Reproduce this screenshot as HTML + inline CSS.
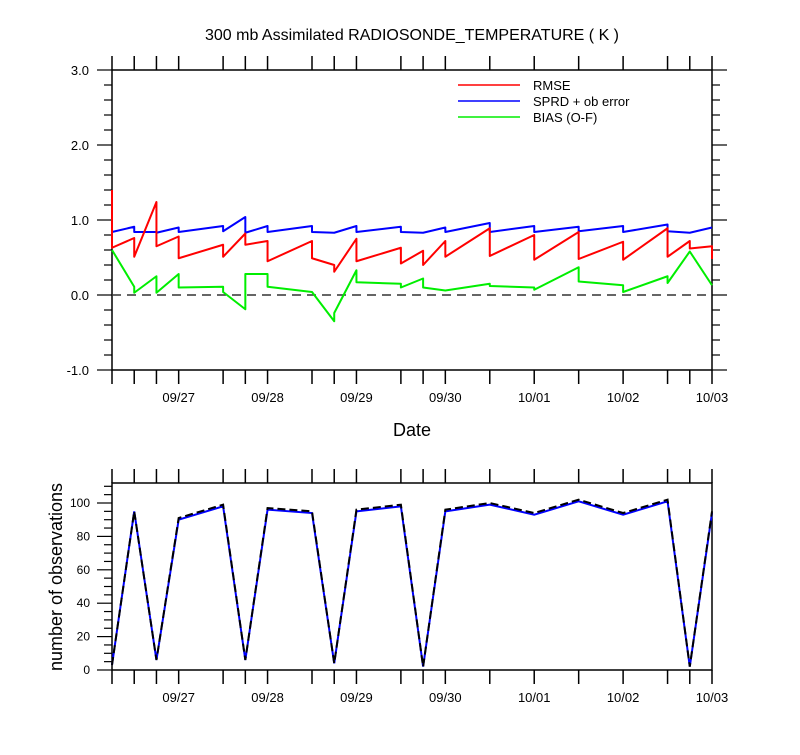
<!DOCTYPE html>
<html><head><meta charset="utf-8"><style>
body{margin:0;background:#fff;}
svg{font-family:"Liberation Sans",sans-serif;}
</style></head><body>
<svg id="c" width="800" height="750" xmlns="http://www.w3.org/2000/svg"></svg>
<script>
// time (hours since 09/26 00Z) of each data point
const hours=[6,12,18,24,36,42,48,60,66,72,84,90,96,108,120,132,144,156,162,168];
const rmseIn=[1.40,0.76,1.24,0.78,0.67,0.82,0.72,0.72,0.40,0.75,0.63,0.59,0.72,0.89,0.80,0.84,0.71,0.89,0.72,0.65];
const rmseOut=[0.63,0.51,0.65,0.49,0.51,0.67,0.45,0.49,0.31,0.45,0.42,0.40,0.51,0.52,0.47,0.48,0.47,0.51,0.62,0.48];
const sprdIn=[0.84,0.91,0.84,0.90,0.92,1.04,0.92,0.92,0.83,0.92,0.91,0.83,0.90,0.96,0.92,0.91,0.92,0.94,0.83,0.90];
const sprdOut=[0.84,0.84,0.83,0.84,0.85,0.83,0.84,0.84,0.83,0.84,0.84,0.83,0.84,0.84,0.84,0.85,0.84,0.85,0.83,0.90];
const biasIn=[0.60,0.11,0.25,0.28,0.11,-0.19,0.28,0.04,-0.35,0.33,0.15,0.22,0.06,0.15,0.10,0.37,0.13,0.25,0.58,0.13];
const biasOut=[0.60,0.03,0.03,0.10,0.04,0.28,0.11,0.04,-0.24,0.17,0.10,0.10,0.06,0.12,0.07,0.18,0.04,0.16,0.58,0.13];
const obsUsed=[3,95,6,90,98,6,96,94,4,95,98,2,95,99,93,101,93,101,2,94];
const obsTotal=[3,95,6,91,99,6,97,95,4,96,99,2,96,100,94,102,94,102,2,95];
const dayLabels=["09/27","09/28","09/29","09/30","10/01","10/02","10/03"];
const dayHours=[24,48,72,96,120,144,168];
const topTicks=[3.0,2.0,1.0,0.0,-1.0];
const botTicks=[0,20,40,60,80,100];

const S=document.getElementById('c');
const NS="http://www.w3.org/2000/svg";
function el(t,a,p){const e=document.createElementNS(NS,t);for(const k in a)e.setAttribute(k,a[k]);(p||S).appendChild(e);return e;}
const X0=112,X1=712,H0=6,H1=168;
const xs=h=>X0+(h-H0)*(X1-X0)/(H1-H0);
const yT=v=>295-75*v;
const yB=v=>670-1.67*v;

let t=el('text',{x:412,y:40,'font-size':16,'text-anchor':'middle'});t.textContent="300 mb Assimilated RADIOSONDE_TEMPERATURE ( K )";


function frame(top,bot,name){
  const r=el('rect',{x:X0,y:top,width:X1-X0,height:bot-top,fill:'none',stroke:'#000','stroke-width':1.5});
  
  hours.forEach(h=>{const x=xs(h);
    el('line',{x1:x,x2:x,y1:top,y2:top-14,stroke:'#000','stroke-width':1.5});
    el('line',{x1:x,x2:x,y1:bot,y2:bot+14,stroke:'#000','stroke-width':1.5});});
  dayHours.forEach((h,i)=>{const tx=el('text',{x:xs(h),y:bot+32,'font-size':13,'text-anchor':'middle'});tx.textContent=dayLabels[i];
    });
}
frame(70,370,'top-plot-frame');
for(let v=-1;v<=3.001;v+=0.2){const y=yT(v);const maj=Math.abs(v-Math.round(v))<0.01;const L=maj?15:8;
  el('line',{x1:X0,x2:X0-L,y1:y,y2:y,stroke:'#000','stroke-width':1.2});
  el('line',{x1:X1,x2:X1+L,y1:y,y2:y,stroke:'#000','stroke-width':1.2});}
topTicks.forEach(v=>{const tx=el('text',{x:89,y:yT(v)+5,'font-size':13,'text-anchor':'end'});tx.textContent=v.toFixed(1);
  });
const zl=el('line',{x1:X0,x2:X1,y1:yT(0),y2:yT(0),stroke:'#333','stroke-width':1.5,'stroke-dasharray':'9,6'});

function saw(inA,outA,col,name){
  let d='';
  for(let i=0;i<hours.length;i++){const x=xs(hours[i]);
    d+=(i?'L':'M')+x+','+yT(inA[i])+'L'+x+','+yT(outA[i]);}
  const p=el('path',{d:d,fill:'none',stroke:col,'stroke-width':2,'stroke-linejoin':'round'});
  
}
saw(sprdIn,sprdOut,'#0000ff','sprd-line');
saw(rmseIn,rmseOut,'#ff0000','rmse-line');
saw(biasIn,biasOut,'#00ee00','bias-line');
[['RMSE','#ff0000',85],['SPRD + ob error','#0000ff',101],['BIAS (O-F)','#00ee00',117]].forEach(a=>{
  const g=el('g',{});
  el('line',{x1:458,x2:520,y1:a[2],y2:a[2],stroke:a[1],'stroke-width':1.5},g);
  const tx=el('text',{x:533,y:a[2]+5,'font-size':13},g);tx.textContent=a[0];});
t=el('text',{x:412,y:436,'font-size':18,'text-anchor':'middle'});t.textContent="Date";


frame(483,670,'bottom-plot-frame');
for(let v=0;v<=112;v+=5){const y=yB(v);const L=v%20==0?15:8;
  el('line',{x1:X0,x2:X0-L,y1:y,y2:y,stroke:'#000','stroke-width':1.2});}
botTicks.forEach(v=>{const tx=el('text',{x:90,y:yB(v)+4,'font-size':12,'text-anchor':'end'});tx.textContent=v;
  });
t=el('text',{x:0,y:0,'font-size':18,'text-anchor':'middle',transform:'translate(62,577) rotate(-90)'});t.textContent="number of observations";

function line(arr,col,dash,name){
  const d=arr.map((v,i)=>(i?'L':'M')+xs(hours[i])+','+yB(v)).join('');
  const p=el('path',{d:d,fill:'none',stroke:col,'stroke-width':2,'stroke-dasharray':dash});
  
}
line(obsUsed,'#0000ff','none','obs-used-line');
line(obsTotal,'#000','8,4','obs-total-line');
</script>
</body></html>
